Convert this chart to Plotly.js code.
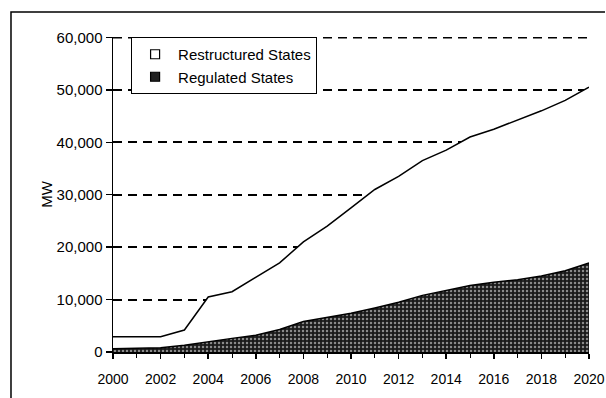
<!DOCTYPE html>
<html>
<head>
<meta charset="utf-8">
<script src="https://cdn.plot.ly/plotly-3.0.1.min.js"></script>
<style>html,body{margin:0;padding:0;background:#fff;}#chart{width:606px;height:398px;}</style>
</head>
<body>
<div id="chart"></div>
<script>
var years = [2000,2001,2002,2003,2004,2005,2006,2007,2008,2009,2010,2011,2012,2013,2014,2015,2016,2017,2018,2019,2020];
var regulatedMW = [600,700,800,1300,2000,2600,3200,4300,5800,6600,7400,8400,9500,10800,11800,12700,13300,13800,14500,15500,17000];
var totalMW = [2900,2900,2900,4200,10500,11500,14200,17000,21000,24000,27500,31000,33500,36500,38500,41000,42500,44200,46000,48000,50500];
var seriesNames = ["Restructured States","Regulated States"];
var yTicks = [0,10000,20000,30000,40000,50000,60000];
var yTickText = ["0","10,000","20,000","30,000","40,000","50,000","60,000"];
var xTicks = [2000,2002,2004,2006,2008,2010,2012,2014,2016,2018,2020];

var font = "Liberation Sans, Arial, sans-serif";

var traces = [
  {x: years, y: regulatedMW, type: 'scatter', mode: 'lines', fill: 'tozeroy',
   line: {color: '#000', width: 1.5}, fillcolor: '#1e1e1e',
   fillpattern: {shape: '.', bgcolor: '#1a1a1a', fgcolor: '#8a8a8a', size: 4, solidity: 0.3},
   showlegend: false, hoverinfo: 'skip'},
  {x: years, y: totalMW, type: 'scatter', mode: 'lines', fill: 'tonexty',
   line: {color: '#000', width: 1.5}, fillcolor: '#ffffff',
   showlegend: false, hoverinfo: 'skip'},
  {x: [null], y: [null], type: 'scatter', mode: 'markers', name: seriesNames[0],
   marker: {symbol: 'square', size: 9, color: '#fff', line: {color: '#000', width: 1.2}}},
  {x: [null], y: [null], type: 'scatter', mode: 'markers', name: seriesNames[1],
   marker: {symbol: 'square', size: 9, color: '#222', line: {color: '#000', width: 1.2}}}
];

var layout = {
  width: 606, height: 398,
  margin: {l: 113, r: 17, t: 37, b: 46, pad: 0},
  paper_bgcolor: '#fff', plot_bgcolor: '#fff',
  font: {family: font, size: 13, color: '#000'},
  showlegend: true,
  legend: {x: 0.038, y: 1.0, xanchor: 'left', yanchor: 'top', traceorder: 'normal',
    bgcolor: '#fff', bordercolor: '#000', borderwidth: 1,
    font: {family: font, size: 15, color: '#000'}, tracegroupgap: 0, itemwidth: 36},
  xaxis: {range: [2000, 2020], tickvals: xTicks, ticktext: xTicks.map(String),
    ticks: 'outside', ticklen: 5, tickwidth: 1.5, tickcolor: '#000', ticklabelstandoff: 9,
    showline: true, linecolor: '#000', linewidth: 1.5, showgrid: false, zeroline: false,
    tickfont: {family: font, size: 14, color: '#000'},
    minor: {dtick: 1, tick0: 2000, ticks: 'outside', ticklen: 4, tickcolor: '#000', tickwidth: 1, showgrid: false}},
  yaxis: {range: [0, 60080], tickvals: yTicks, ticktext: yTickText,
    ticks: 'outside', ticklen: 6, tickwidth: 1.5, tickcolor: '#000',
    showline: true, linecolor: '#000', linewidth: 1.5,
    showgrid: true, gridcolor: '#000', gridwidth: 2, griddash: '9px,6px', zeroline: false,
    tickfont: {family: font, size: 15, color: '#000'},
    title: {text: 'MW', font: {family: font, size: 15, color: '#000'}, standoff: 0}},
  shapes: [
    {type: 'line', xref: 'paper', yref: 'y', x0: 0, x1: 1, y0: yTicks[6], y1: yTicks[6],
     layer: 'below', line: {color: '#000', width: 2, dash: '9px,6px'}},
    {type: 'path', xref: 'paper', yref: 'paper',
     path: 'M -0.2143,-0.2 L -0.2143,1.079 L 1.0336,1.079',
     line: {color: '#000', width: 1.5}}
  ]
};

Plotly.newPlot('chart', traces, layout, {staticPlot: true, displayModeBar: false});
</script>
</body>
</html>
